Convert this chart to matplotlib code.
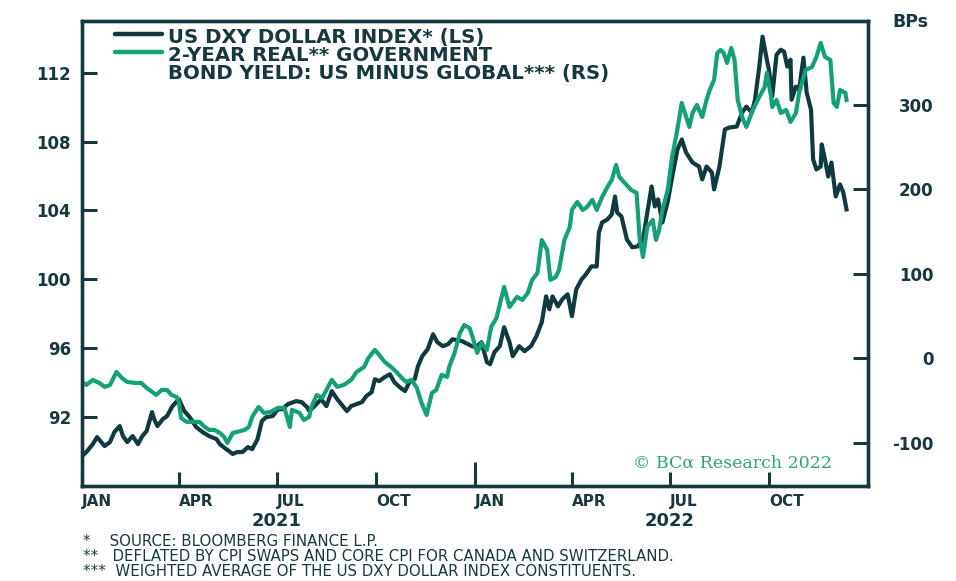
import numpy as np
import matplotlib
matplotlib.use("Agg")
import matplotlib.pyplot as plt

# -----------------------------
# DATA
# -----------------------------

# US DXY dollar index (left scale)
dxy_dates = [
    '2021-01-01', '2021-01-05', '2021-01-11', '2021-01-15', '2021-01-22', '2021-01-27', '2021-01-31', '2021-02-05', '2021-02-08', '2021-02-12',
    '2021-02-17', '2021-02-22', '2021-02-26', '2021-03-02', '2021-03-07', '2021-03-09', '2021-03-12', '2021-03-17', '2021-03-21', '2021-03-26',
    '2021-04-01', '2021-04-06', '2021-04-11', '2021-04-17', '2021-04-23', '2021-04-29', '2021-05-06', '2021-05-09', '2021-05-15', '2021-05-21',
    '2021-05-25', '2021-05-30', '2021-06-04', '2021-06-08', '2021-06-13', '2021-06-17', '2021-06-21', '2021-06-27', '2021-07-02', '2021-07-06',
    '2021-07-11', '2021-07-19', '2021-07-24', '2021-07-29', '2021-07-31', '2021-08-05', '2021-08-11', '2021-08-16', '2021-08-21', '2021-08-26',
    '2021-09-04', '2021-09-08', '2021-09-18', '2021-09-22', '2021-09-27', '2021-09-30', '2021-10-04', '2021-10-09', '2021-10-14', '2021-10-18',
    '2021-10-23', '2021-10-28', '2021-11-01', '2021-11-06', '2021-11-09', '2021-11-13', '2021-11-18', '2021-11-23', '2021-11-27', '2021-12-02',
    '2021-12-07', '2021-12-11', '2021-12-20', '2021-12-29', '2022-01-02', '2022-01-07', '2022-01-12', '2022-01-15', '2022-01-19', '2022-01-24',
    '2022-01-28', '2022-02-02', '2022-02-05', '2022-02-11', '2022-02-16', '2022-02-22', '2022-02-27', '2022-03-04', '2022-03-08', '2022-03-11',
    '2022-03-14', '2022-03-19', '2022-03-23', '2022-03-28', '2022-04-01', '2022-04-05', '2022-04-10', '2022-04-14', '2022-04-19', '2022-04-24',
    '2022-04-26', '2022-04-29', '2022-05-04', '2022-05-08', '2022-05-11', '2022-05-13', '2022-05-17', '2022-05-22', '2022-05-27', '2022-06-01',
    '2022-06-06', '2022-06-10', '2022-06-14', '2022-06-17', '2022-06-20', '2022-06-24', '2022-06-29', '2022-07-03', '2022-07-08', '2022-07-12',
    '2022-07-16', '2022-07-22', '2022-07-28', '2022-07-31', '2022-08-04', '2022-08-09', '2022-08-11', '2022-08-16', '2022-08-21', '2022-08-25',
    '2022-09-01', '2022-09-06', '2022-09-10', '2022-09-15', '2022-09-18', '2022-09-22', '2022-09-25', '2022-09-29', '2022-10-01', '2022-10-04',
    '2022-10-08', '2022-10-12', '2022-10-15', '2022-10-18', '2022-10-21', '2022-10-22', '2022-10-26', '2022-10-29', '2022-11-02', '2022-11-05',
    '2022-11-09', '2022-11-11', '2022-11-14', '2022-11-18', '2022-11-19', '2022-11-22', '2022-11-25', '2022-11-28', '2022-12-02', '2022-12-06',
    '2022-12-09', '2022-12-12',
]
dxy_values = [
    89.74, 89.97, 90.43, 90.84, 90.32, 90.55, 91.13, 91.48, 90.90, 90.55,
    90.90, 90.43, 90.90, 91.19, 92.29, 91.88, 91.48, 91.88, 92.06, 92.64,
    93.04, 92.35, 92.00, 91.42, 91.13, 90.90, 90.72, 90.43, 90.14, 89.86,
    89.97, 89.97, 90.26, 90.14, 90.72, 91.77, 92.00, 92.06, 92.46, 92.46,
    92.75, 92.93, 92.87, 92.58, 92.35, 92.64, 93.04, 92.64, 93.51, 93.04,
    92.35, 92.64, 92.87, 93.22, 93.45, 94.20, 94.09, 94.32, 94.49, 94.03,
    93.74, 93.51, 94.03, 94.20, 94.96, 95.54, 95.94, 96.81, 96.35, 96.12,
    96.23, 96.52, 96.41, 96.12, 96.06, 96.35, 95.19, 95.07, 95.77, 96.12,
    97.22, 96.35, 95.54, 96.12, 95.83, 96.12, 96.70, 97.51, 99.01, 98.26,
    99.01, 98.43, 98.84, 99.13, 97.86, 99.42, 100.00, 100.29, 100.75, 100.75,
    102.72, 103.30, 103.48, 103.77, 104.81, 103.88, 103.65, 102.32, 101.86, 101.91,
    102.32, 103.88, 105.39, 104.23, 104.64, 103.30, 104.52, 105.91, 107.54, 108.12,
    107.36, 106.78, 106.55, 105.80, 106.55, 106.20, 105.22, 106.55, 108.70, 108.81,
    108.87, 109.68, 110.03, 109.68, 110.43, 112.35, 114.09, 112.75, 112.17, 110.61,
    113.04, 113.33, 113.22, 112.35, 112.75, 110.43, 111.19, 111.01, 112.87, 110.84,
    109.86, 106.96, 106.38, 106.55, 107.83, 106.96, 105.97, 106.78, 104.81, 105.51,
    105.04, 104.06,
]

# 2-year real government bond yield spread, US minus global, bps (right scale)
spread_dates = [
    '2021-01-01', '2021-01-05', '2021-01-11', '2021-01-17', '2021-01-22', '2021-01-27', '2021-02-02', '2021-02-07', '2021-02-12', '2021-02-19',
    '2021-02-25', '2021-03-02', '2021-03-07', '2021-03-11', '2021-03-16', '2021-03-21', '2021-03-25', '2021-03-30', '2021-04-01', '2021-04-03',
    '2021-04-08', '2021-04-14', '2021-04-20', '2021-04-25', '2021-04-29', '2021-05-04', '2021-05-09', '2021-05-13', '2021-05-16', '2021-05-21',
    '2021-05-25', '2021-06-01', '2021-06-05', '2021-06-08', '2021-06-14', '2021-06-19', '2021-06-25', '2021-07-02', '2021-07-08', '2021-07-13',
    '2021-07-15', '2021-07-22', '2021-07-26', '2021-07-31', '2021-08-02', '2021-08-07', '2021-08-12', '2021-08-21', '2021-08-26', '2021-09-01',
    '2021-09-08', '2021-09-13', '2021-09-20', '2021-09-24', '2021-09-30', '2021-10-04', '2021-10-09', '2021-10-15', '2021-10-20', '2021-10-25',
    '2021-10-29', '2021-11-03', '2021-11-08', '2021-11-12', '2021-11-17', '2021-11-22', '2021-11-26', '2021-12-01', '2021-12-06', '2021-12-08',
    '2021-12-13', '2021-12-18', '2021-12-22', '2021-12-27', '2021-12-30', '2022-01-03', '2022-01-07', '2022-01-12', '2022-01-16', '2022-01-21',
    '2022-01-25', '2022-01-28', '2022-02-02', '2022-02-09', '2022-02-14', '2022-02-19', '2022-02-23', '2022-02-28', '2022-03-04', '2022-03-09',
    '2022-03-12', '2022-03-17', '2022-03-20', '2022-03-25', '2022-03-30', '2022-04-01', '2022-04-06', '2022-04-11', '2022-04-15', '2022-04-20',
    '2022-04-24', '2022-04-29', '2022-05-04', '2022-05-08', '2022-05-12', '2022-05-15', '2022-05-20', '2022-05-26', '2022-05-31', '2022-06-03',
    '2022-06-06', '2022-06-10', '2022-06-15', '2022-06-18', '2022-06-21', '2022-06-24', '2022-06-29', '2022-07-03', '2022-07-07', '2022-07-12',
    '2022-07-14', '2022-07-19', '2022-07-22', '2022-07-26', '2022-07-31', '2022-08-04', '2022-08-07', '2022-08-11', '2022-08-14', '2022-08-17',
    '2022-08-20', '2022-08-23', '2022-08-27', '2022-08-30', '2022-09-02', '2022-09-06', '2022-09-10', '2022-09-16', '2022-09-22', '2022-09-27',
    '2022-09-29', '2022-10-03', '2022-10-04', '2022-10-08', '2022-10-12', '2022-10-17', '2022-10-21', '2022-10-26', '2022-10-29', '2022-11-04',
    '2022-11-10', '2022-11-14', '2022-11-18', '2022-11-22', '2022-11-27', '2022-11-30', '2022-12-03', '2022-12-06', '2022-12-11', '2022-12-12',
]
spread_values = [
    -27.8, -31.4, -25.4, -29.0, -33.7, -31.4, -16.0, -23.1, -27.8, -29.0,
    -29.0, -34.9, -39.6, -43.2, -37.3, -37.3, -43.2, -45.6, -51.5, -70.4,
    -75.1, -75.1, -75.1, -81.1, -84.6, -84.6, -88.2, -92.9, -100.0, -88.2,
    -87.0, -84.6, -81.1, -69.2, -57.4, -64.5, -63.3, -58.6, -58.6, -81.1,
    -60.9, -64.5, -72.8, -69.2, -57.4, -43.2, -46.7, -25.4, -33.7, -31.4,
    -25.4, -16.0, -10.1, 0.6, 10.1, 4.1, -4.1, -10.1, -16.0, -23.1,
    -27.8, -25.4, -34.9, -51.5, -66.9, -40.8, -37.3, -19.5, -21.9, -10.1,
    6.5, 30.2, 39.6, 35.9, 24.3, 6.5, 18.3, 10.1, 37.3, 47.9,
    69.2, 84.6, 60.9, 72.8, 69.2, 77.5, 92.9, 101.2, 140.2, 128.4,
    92.9, 96.4, 104.7, 140.2, 155.6, 175.7, 185.2, 175.7, 179.3, 187.6,
    175.7, 191.1, 203.0, 211.2, 229.0, 214.8, 207.7, 199.4, 195.9, 140.2,
    120.1, 155.6, 163.9, 140.2, 152.1, 175.7, 199.4, 238.5, 264.5, 302.4,
    294.1, 274.0, 290.5, 300.0, 285.8, 305.9, 317.8, 329.6, 361.5, 365.1,
    361.5, 349.7, 367.5, 353.3, 305.9, 285.8, 274.0, 294.1, 309.5, 321.3,
    337.9, 309.5, 297.6, 305.9, 290.5, 294.1, 279.9, 290.5, 314.2, 341.4,
    345.0, 356.8, 373.4, 356.8, 353.3, 302.4, 297.6, 317.8, 314.2, 305.9,
]

left_ticks = [92, 96, 100, 104, 108, 112]
right_ticks = [-100, 0, 100, 200, 300]
quarter_ticks = ['2021-01-01', '2021-04-01', '2021-07-01', '2021-10-01',
                 '2022-01-01', '2022-04-01', '2022-07-01', '2022-10-01']
quarter_labels = ['JAN', 'APR', 'JUL', 'OCT', 'JAN', 'APR', 'JUL', 'OCT']
years = ['2021', '2022']
year_centres = ['2021-07-01', '2022-07-01']

legend_lines = ['US DXY DOLLAR INDEX* (LS)', '2-YEAR REAL** GOVERNMENT',
                'BOND YIELD: US MINUS GLOBAL*** (RS)']
footnotes = [
    '*    SOURCE: BLOOMBERG FINANCE L.P.',
    '**   DEFLATED BY CPI SWAPS AND CORE CPI FOR CANADA AND SWITZERLAND.',
    '***  WEIGHTED AVERAGE OF THE US DXY DOLLAR INDEX CONSTITUENTS.',
]

# -----------------------------
# STYLE
# -----------------------------
DARK = '#0f3a40'
GREEN = '#14a078'
SPINE = '#17383e'
TEXT = '#17383e'

plt.rcParams['font.family'] = ['DejaVu Sans']
plt.rcParams['axes.unicode_minus'] = False

to_dt = lambda lst: np.array(lst, dtype='datetime64[D]')

fig = plt.figure(figsize=(9.56, 5.81), dpi=100)
ax = fig.add_axes([0.0858, 0.1635, 0.8222, 0.8004])
ax2 = ax.twinx()

ax.plot(to_dt(dxy_dates), dxy_values, color=DARK, lw=3.0, solid_joinstyle='round')
ax2.plot(to_dt(spread_dates), spread_values, color=GREEN, lw=3.0, solid_joinstyle='round')

ax.set_xlim(np.datetime64('2021-01-01'), np.datetime64('2023-01-01'))
ax.set_ylim(88, 115)
ax2.set_ylim(-151, 399.4)

for a in (ax, ax2):
    for s in a.spines.values():
        s.set_color(SPINE)
        s.set_linewidth(2.4)

# y axes
ax.set_yticks(left_ticks)
ax.tick_params(axis='y', direction='in', length=11, width=2.2, color=SPINE,
               pad=8, labelsize=12, labelcolor=TEXT)
ax2.set_yticks(right_ticks)
ax2.tick_params(axis='y', direction='in', length=11, width=2.2, color=SPINE,
                pad=47, labelsize=12, labelcolor=TEXT)
for lbl in ax.get_yticklabels():
    lbl.set_fontweight('bold')
for lbl in ax2.get_yticklabels():
    lbl.set_fontweight('bold')
    lbl.set_horizontalalignment('right')

# x axis: quarters, longer tick at the year boundary
ax.xaxis.remove_overlapping_locs = False
ax.set_xticks(to_dt(quarter_ticks))
ax.set_xticklabels(quarter_labels)
ax.set_xticks(to_dt(['2022-01-01']), minor=True)
ax.tick_params(axis='x', which='major', direction='in', length=10, width=2.2,
               color=SPINE, pad=6, labelsize=11, labelcolor=TEXT)
ax.tick_params(axis='x', which='minor', direction='in', length=17, width=2.2,
               color=SPINE)
for lbl in ax.get_xticklabels():
    lbl.set_fontweight('bold')
    lbl.set_horizontalalignment('left')

for yr, c in zip(years, to_dt(year_centres)):
    ax.text(c, -0.075, yr, transform=ax.get_xaxis_transform(), ha='center',
            va='center', fontsize=13, fontweight='bold', color=TEXT)

# legend drawn by hand so the green key sits on the first line of its label
ax2.plot([0.042, 0.102], [0.972, 0.972], transform=ax2.transAxes, color=DARK,
         lw=3.2, solid_capstyle='round', clip_on=False)
ax2.plot([0.042, 0.102], [0.933, 0.933], transform=ax2.transAxes, color=GREEN,
         lw=3.2, solid_capstyle='round', clip_on=False)
for i, t in enumerate(legend_lines):
    ax2.text(0.1095, 0.9635 - i * 0.0387, t, transform=ax2.transAxes, ha='left',
             va='center', fontsize=14.2, fontweight='bold', color=TEXT)

fig.text(928 / 956, 1 - 22 / 581, 'BPs', ha='right', va='center',
         fontsize=12.5, fontweight='bold', color=TEXT)

ax2.text(0.701, 0.0495, '\u00a9 BC\u03b1 Research 2022', transform=ax2.transAxes,
         ha='left', va='center', fontsize=12.5, family='DejaVu Serif',
         color='#2ba57f')

for i, t in enumerate(footnotes):
    fig.text(83 / 956, 1 - (541 + i * 15.5) / 581, t, ha='left', va='center',
             fontsize=10.8, color=TEXT)

fig.savefig('out.png', dpi=100)
